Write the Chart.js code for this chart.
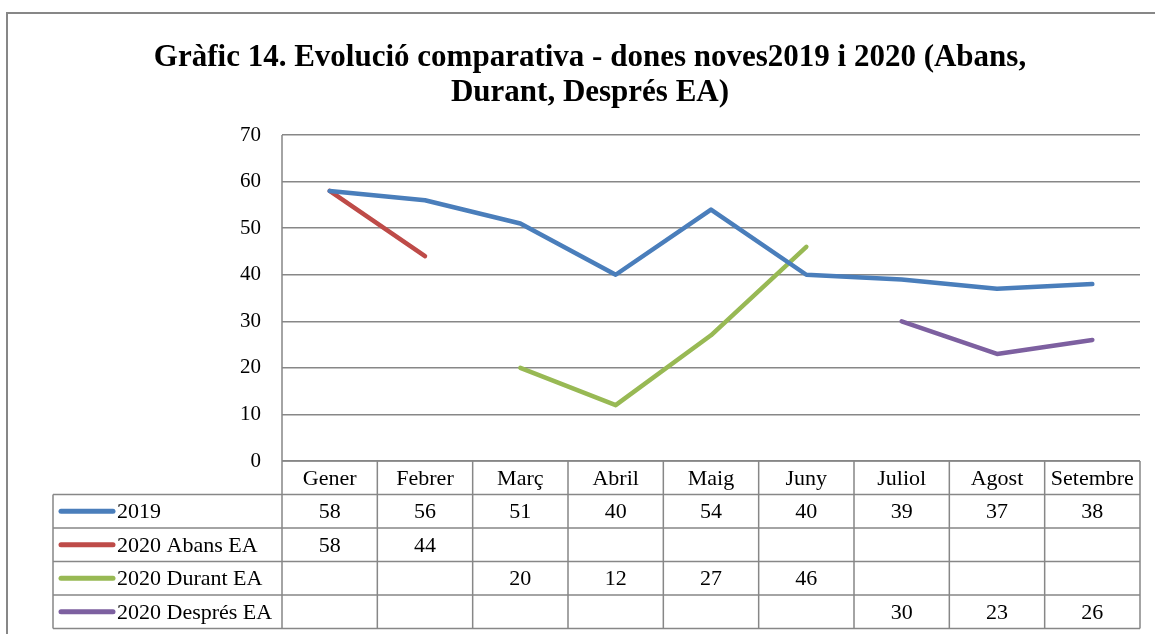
<!DOCTYPE html>
<html>
<head>
<meta charset="utf-8">
<script src="https://cdn.jsdelivr.net/npm/chart.js@4/dist/chart.umd.min.js"></script>
<style>
  html, body { margin: 0; padding: 0; background: #fff; }
  #wrap { width: 1155px; height: 634px; }
</style>
</head>
<body>
<div id="wrap"><canvas id="myChart" width="1155" height="634"></canvas></div>
<script>
// dades del gràfic
var mesos = ['Gener', 'Febrer', 'Març', 'Abril', 'Maig', 'Juny', 'Juliol', 'Agost', 'Setembre']
var noms = ['2019', '2020 Abans EA', '2020 Durant EA', '2020 Després EA']
var dades2019 = [58, 56, 51, 40, 54, 40, 39, 37, 38]
var abansEA = [58, 44, null, null, null, null, null, null, null]
var durantEA = [null, null, 20, 12, 27, 46, null, null, null]
var despresEA = [null, null, null, null, null, null, 30, 23, 26]
var colors = ['#4a7ebb', '#be4b48', '#98b954', '#7d60a0']
var yTicks = [0, 10, 20, 30, 40, 50, 60, 70]

var fontSerif = '"Liberation Serif", "DejaVu Serif", serif'
var gris = '#878787'
var rowH = 33.5

// marc exterior
var marcPlugin = {
  id: 'marc',
  beforeDraw: function (chart) {
    var c = chart.ctx
    c.save()
    c.strokeStyle = gris
    c.lineWidth = 2
    c.beginPath()
    c.moveTo(7, chart.height)
    c.lineTo(7, 13)
    c.lineTo(chart.width, 13)
    c.stroke()
    c.restore()
  }
}

// taula de dades sota l'eix
var taulaPlugin = {
  id: 'taula',
  afterDraw: function (chart) {
    var c = chart.ctx
    var x = chart.scales.x
    var area = chart.chartArea
    var half = (x.right - x.left) / mesos.length / 2
    var top = area.bottom
    var bottom = top + rowH * (noms.length + 1)
    var leftCol = 53
    c.save()
    c.strokeStyle = gris
    c.lineWidth = 1.5
    c.beginPath()
    // linies horitzontals
    c.moveTo(area.left, top)
    c.lineTo(x.right, top)
    for (var r = 1; r <= noms.length + 1; r++) {
      c.moveTo(leftCol, top + rowH * r)
      c.lineTo(x.right, top + rowH * r)
    }
    // linies verticals
    c.moveTo(leftCol, top + rowH)
    c.lineTo(leftCol, bottom)
    c.moveTo(area.left, area.top)
    c.lineTo(area.left, bottom)
    for (var i = 0; i < mesos.length; i++) {
      var xr = x.getPixelForValue(i) + half
      c.moveTo(xr, top)
      c.lineTo(xr, bottom)
    }
    c.stroke()

    c.fillStyle = '#000'
    c.font = '22px ' + fontSerif
    c.textAlign = 'center'
    c.textBaseline = 'middle'
    for (var i = 0; i < mesos.length; i++) {
      c.fillText(mesos[i], x.getPixelForValue(i), top + rowH / 2 + 1)
    }
    chart.data.datasets.forEach(function (ds, d) {
      var cy = top + rowH * (d + 1) + rowH / 2 + 1
      ds.data.forEach(function (v, i) {
        if (v !== null) c.fillText(String(v), x.getPixelForValue(i), cy)
      })
      c.strokeStyle = ds.borderColor
      c.lineWidth = 5
      c.lineCap = 'round'
      c.beginPath()
      c.moveTo(61, cy - 1)
      c.lineTo(113, cy - 1)
      c.stroke()
      c.textAlign = 'left'
      c.fillText(ds.label, 117, cy)
      c.textAlign = 'center'
    })
    c.restore()
  }
}

var series = [dades2019, abansEA, durantEA, despresEA]
var ctx = document.getElementById('myChart').getContext('2d')
var chart = new Chart(ctx, {
  type: 'line',
  data: {
    labels: mesos,
    datasets: series.map(function (s, i) {
      return {
        label: noms[i],
        data: s,
        borderColor: colors[i],
        backgroundColor: colors[i],
        borderWidth: 4.5,
        borderJoinStyle: 'round',
        borderCapStyle: 'round',
        pointRadius: 0,
        tension: 0,
        spanGaps: false
      }
    })
  },
  options: {
    responsive: false,
    animation: false,
    layout: { padding: { left: 40, right: 15, top: 0, bottom: 173 } },
    plugins: {
      legend: { display: false },
      tooltip: { enabled: false },
      title: {
        display: true,
        text: ['Gràfic 14. Evolució comparativa - dones noves2019 i 2020 (Abans,', 'Durant, Després EA)'],
        color: '#000',
        font: { family: fontSerif, size: 31, weight: 'bold', lineHeight: 1.13 },
        padding: { top: 40, bottom: 25 }
      }
    },
    scales: {
      x: {
        type: 'category',
        offset: true,
        ticks: { display: false },
        grid: { display: false },
        border: { display: false },
        afterFit: function (s) { s.height = 0 }
      },
      y: {
        min: 0,
        max: 70,
        afterBuildTicks: function (s) { s.ticks = yTicks.map(function (v) { return { value: v } }) },
        ticks: { color: '#000', padding: 21, font: { family: fontSerif, size: 21 } },
        grid: { color: gris, lineWidth: 1.5, drawTicks: false },
        border: { display: false },
        afterFit: function (s) { s.width = 242 }
      }
    }
  },
  plugins: [marcPlugin, taulaPlugin]
})
</script>
</body>
</html>
